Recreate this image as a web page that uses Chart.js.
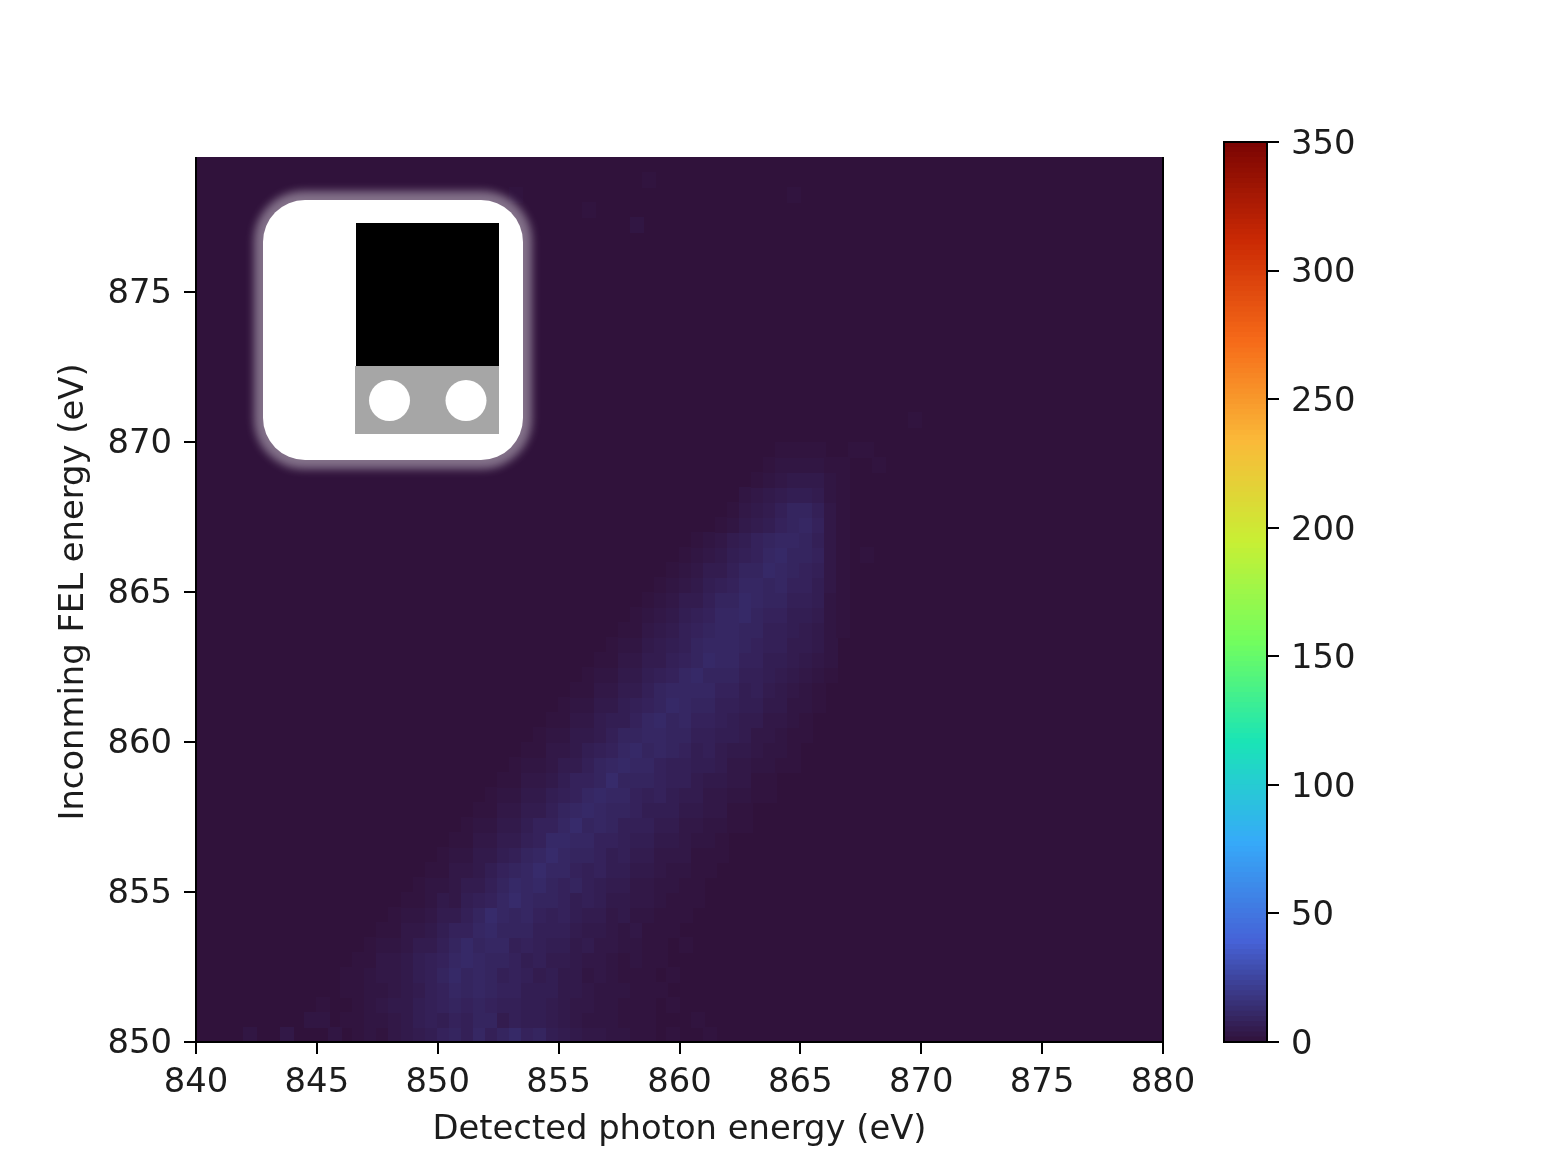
<!DOCTYPE html>
<html><head><meta charset="utf-8">
<style>html,body{margin:0;padding:0;background:#fff;width:1559px;height:1170px;overflow:hidden}
canvas{position:absolute;top:0}</style>
<script src="https://cdn.jsdelivr.net/npm/chart.js@4"></script></head>
<body>
<canvas id="map" width="1559" height="1170" style="left:0"></canvas>
<canvas id="bar" width="359" height="1170" style="left:1200px"></canvas>
<script>
const xTicks=[840,845,850,855,860,865,870,875,880];
const yTicks=[850,855,860,865,870,875];
const colorbarTicks=[0,50,100,150,200,250,300,350];
const xTitle='Detected photon energy (eV)';
const yTitle='Inconming FEL energy (eV)';
const gridX0=846, gridY0=850, cellSize=0.5;
const rowStart=[0,0,0,0,0,1,2,3,4,5,6,7,8,9,10,11,12,13,14,15,16,17,18,19,20,21,22,23,24,25,26,27,28,29,31,32,33,34,35,36];
const rowValues=[
[0,1,2,1,3,4,5,6,8,9,7,10,7,9,11,8,9,6,5,4,3,3,2,2,1,1,0,1,0,0,1],
[1,1,2,2,3,4,6,7,6,8,7,9,9,5,7,6,6,5,4,3,2,2,2,1,1,1,0,0,0,1],
[0,1,2,3,4,4,6,7,8,9,8,9,8,7,7,6,6,5,4,3,3,2,2,1,1,1,0,1],
[1,1,2,2,3,4,5,7,8,10,9,10,9,8,8,6,6,6,4,4,3,2,2,2,1,1,1],
[1,1,2,3,3,4,6,7,9,11,9,10,9,7,8,7,5,6,4,4,2,3,2,1,1,1,0,1],
[1,1,3,3,4,6,7,8,10,11,10,9,9,8,6,7,5,5,4,3,3,2,1,2,1,1],
[1,2,2,3,5,5,7,9,11,9,10,10,7,8,7,6,6,4,5,3,3,2,2,1,1,0,1],
[1,1,3,3,4,6,8,8,10,11,9,9,9,7,7,7,5,4,4,3,2,3,1,1,1],
[1,2,2,3,5,5,7,9,12,10,9,10,8,7,8,6,5,5,3,4,2,2,1,1,1],
[1,1,2,4,3,6,7,8,10,12,10,9,9,8,6,7,6,4,4,3,3,2,1,1,1],
[1,2,2,3,5,5,7,9,11,10,11,9,8,9,7,6,5,5,3,3,2,2,1,1],
[1,1,3,3,4,6,8,9,10,12,10,10,8,7,8,6,6,4,4,3,2,2,1,1],
[1,2,2,4,4,6,7,9,10,12,10,9,9,8,6,7,5,5,3,3,3,1,1,1],
[1,1,3,3,5,5,7,8,11,11,10,10,8,8,7,6,6,4,4,3,2,2,1],
[1,2,2,4,4,6,8,8,10,12,9,10,9,7,7,7,5,5,3,3,2,2,1,1],
[1,1,3,3,5,5,7,9,10,11,10,9,9,8,6,6,6,4,4,3,3,1,1],
[1,2,2,4,4,6,7,8,10,11,10,10,8,7,8,6,5,5,3,3,2,2,1,1],
[1,1,3,3,4,6,8,8,9,12,9,9,9,8,7,7,5,4,4,3,3,1,1],
[1,2,2,3,5,5,7,9,10,11,10,10,8,7,7,6,6,5,3,3,2,2,1,1],
[1,1,3,3,4,6,7,8,10,11,9,10,9,8,6,7,5,4,4,3,2,2,1],
[1,2,2,4,4,5,7,9,9,10,10,9,9,7,7,6,6,5,3,3,2,1,1],
[1,1,3,3,5,6,6,8,10,11,9,10,8,8,7,6,5,5,3,3,2,1],
[1,2,2,4,4,6,7,8,9,11,10,9,9,7,7,6,6,4,4,2,2,1],
[1,1,3,3,5,5,7,9,10,10,10,10,8,8,6,7,5,4,3,2,1],
[1,2,2,4,4,6,7,8,10,11,9,9,9,7,7,6,5,4,3,2,1],
[1,1,3,3,5,5,7,8,9,11,10,10,8,8,6,6,5,4,3,2],
[1,2,2,4,5,6,7,9,10,10,10,9,8,7,7,5,5,4,2],
[1,1,3,4,5,7,8,9,10,10,9,9,7,7,6,5,4,2,1],
[1,2,3,4,6,7,8,10,10,11,9,8,8,6,6,5,2,1],
[1,2,3,5,5,7,9,9,11,10,9,9,7,7,6,2,1],
[1,2,3,4,6,7,8,10,10,9,10,8,8,6,3,1],
[1,2,3,5,5,7,9,9,11,10,9,8,7,3,1],
[1,2,3,4,6,7,8,10,11,9,9,8,3,1],
[1,2,3,5,6,8,9,10,10,9,7,3,1],
[1,2,4,5,6,8,9,10,8,3,1],
[1,3,4,5,7,9,9,7,3,1],
[2,3,4,5,6,6,5,2,1],
[1,2,3,4,4,4,2,1],
[1,2,2,2,2,1,1],
[1,1,1,1,0,0,1,1]
];
// isolated faint cells outside the main band: eV, eV, counts
const specklesX=[842.25,843.75,844.75,845.25,845.75,845.25,867.75,868.25,869.75,858.75,853.25,864.75,856.25,858.25];
const specklesY=[850.25,850.25,850.75,851.25,850.25,850.75,866.25,869.25,870.75,878.75,878.25,878.25,877.75,877.25];
const specklesV=[2,3,2,1,2,2,1,1,1,1,1,1,1,2];
const colorStops=['#30123b','#4662d7','#36aaf9','#1ae4b6','#72fe5e','#c8ef34','#faba39','#f66b19','#cb2a04','#7a0403'];
const colorMax=350;

function hexRgb(h){return [1,3,5].map(i=>parseInt(h.substr(i,2),16));}
const stopRgb=colorStops.map(hexRgb);
function turbo(v){
  const t=Math.min(1,Math.max(0,v/colorMax))*(stopRgb.length-1);
  const i=Math.min(stopRgb.length-2,Math.floor(t)),f=t-i;
  const c=stopRgb[i].map((a,k)=>Math.round(a+(stopRgb[i+1][k]-a)*f));
  return `rgb(${c[0]},${c[1]},${c[2]})`;
}
const FONT='"DejaVu Sans"',TXT='#1c1c1c',LINE='#000',FS=33.8;
const cellPoints=[];
rowValues.forEach((row,r)=>row.forEach((v,c)=>{
  if(v>0)cellPoints.push({x:gridX0+(rowStart[r]+c+0.5)*cellSize,y:gridY0+(r+0.5)*cellSize,v});
}));
specklesX.forEach((x,i)=>cellPoints.push({x,y:specklesY[i],v:specklesV[i]}));

const sprites={};
function cellSprite(ctx){
  const v=ctx.raw?ctx.raw.v:0, s=ctx.chart.scales;
  const w=Math.ceil(Math.abs(s.x.getPixelForValue(cellSize)-s.x.getPixelForValue(0)))+1;
  const h=Math.ceil(Math.abs(s.y.getPixelForValue(gridY0+cellSize)-s.y.getPixelForValue(gridY0)))+1;
  const k=v+'|'+w+'|'+h;
  if(!sprites[k]){
    const c=document.createElement('canvas');c.width=w;c.height=h;
    const g=c.getContext('2d');g.fillStyle=turbo(v);g.fillRect(0,0,w,h);
    sprites[k]=c;
  }
  return sprites[k];
}
function fixTicks(arr){return s=>{s.ticks=arr.map(value=>({value}));};}

const plotFrame={id:'plotFrame',
  beforeDatasetsDraw(ch){
    const a=ch.chartArea,g=ch.ctx;
    g.save();g.fillStyle=turbo(0);g.fillRect(a.left,a.top,a.width,a.height);g.restore();
  },
  afterDraw(ch){
    const a=ch.chartArea,g=ch.ctx,top=ch.scales.y.getPixelForValue(879.5);
    g.save();
    g.fillStyle='#fff';g.fillRect(a.left-6,a.top-2,a.width+12,top-a.top+2);
    g.strokeStyle=LINE;g.lineWidth=2;g.beginPath();
    g.moveTo(a.left,top);g.lineTo(a.left,a.bottom);g.lineTo(a.right,a.bottom);g.lineTo(a.right,top);g.stroke();
    // inset badge
    const L=a.left,T=a.top;
    const rr=(x,y,w,h,r)=>{g.beginPath();g.roundRect(L+x,T+y,w,h,r);};
    g.filter='blur(4px)';g.fillStyle='rgba(255,255,255,0.4)';rr(58,49,278,278,50);g.fill();g.filter='none';
    g.fillStyle='#fff';rr(67,58,260,260,42);g.fill();
    g.fillStyle='#000';g.fillRect(L+160,T+81,143,143);
    g.fillStyle='#a6a6a6';g.fillRect(L+159,T+224,144,68);
    g.fillStyle='#fff';
    [193.5,270].forEach(cx=>{g.beginPath();g.arc(L+cx,T+258.5,20.5,0,Math.PI*2);g.fill();});
    g.restore();
  }};

new Chart(document.getElementById('map'),{
  type:'scatter',
  data:{datasets:[{label:'Counts',data:cellPoints,
    pointStyle:cellSprite,pointRadius:6,pointHoverRadius:6,pointBorderWidth:0,borderWidth:0,backgroundColor:'transparent'}]},
  options:{responsive:false,animation:false,events:[],
    layout:{padding:{left:0,top:142,right:396,bottom:0}},
    plugins:{legend:{display:false},tooltip:{enabled:false}},
    scales:{
      x:{type:'linear',min:840,max:880,afterBuildTicks:fixTicks(xTicks),
        afterFit(s){s.height=128;},
        grid:{drawOnChartArea:false,color:LINE,lineWidth:2,tickLength:12},border:{display:false},
        ticks:{font:{family:FONT,size:FS},color:TXT,padding:9,maxRotation:0,autoSkip:false,callback:v=>String(v)},
        title:{display:true,text:xTitle,font:{family:FONT,size:FS},color:TXT,padding:{top:0,bottom:20}}},
      y:{type:'linear',min:850,max:880,afterBuildTicks:fixTicks(yTicks),
        afterFit(s){s.width=196;},
        grid:{drawOnChartArea:false,color:LINE,lineWidth:2,tickLength:12},border:{display:false},
        ticks:{font:{family:FONT,size:FS},color:TXT,padding:12,labelOffset:2,autoSkip:false,callback:v=>String(v)},
        title:{display:true,text:yTitle,font:{family:FONT,size:FS},color:TXT,padding:{top:54,bottom:0}}}
    }},
  plugins:[plotFrame]
});

// colorbar: nested floating bars, lowest level on top
const barLevels=[];for(let v=2;v<=colorMax;v+=2)barLevels.push(v);
const barFrame={id:'barFrame',afterDraw(ch){
  const a=ch.chartArea,g=ch.ctx;g.save();g.strokeStyle=LINE;g.lineWidth=2;
  g.strokeRect(a.left,a.top,a.width,a.height);g.restore();}};
new Chart(document.getElementById('bar'),{
  type:'bar',
  data:{labels:['level'],datasets:barLevels.map(v=>({label:String(v),data:[[0,v]],
    backgroundColor:turbo(v-1),borderWidth:0,barPercentage:1,categoryPercentage:1,grouped:false}))},
  options:{responsive:false,animation:false,events:[],
    layout:{padding:{left:24,top:142,right:0,bottom:128}},
    plugins:{legend:{display:false},tooltip:{enabled:false}},
    scales:{
      x:{display:false,grid:{display:false}},
      y:{position:'right',type:'linear',min:0,max:colorMax,afterBuildTicks:fixTicks(colorbarTicks),
        afterFit(s){s.width=292;},
        grid:{drawOnChartArea:false,color:LINE,lineWidth:2,tickLength:12},border:{display:false},
        ticks:{font:{family:FONT,size:FS},color:TXT,padding:12,labelOffset:3,autoSkip:false,callback:v=>String(v)}}
    }},
  plugins:[barFrame]
});
</script></body></html>
